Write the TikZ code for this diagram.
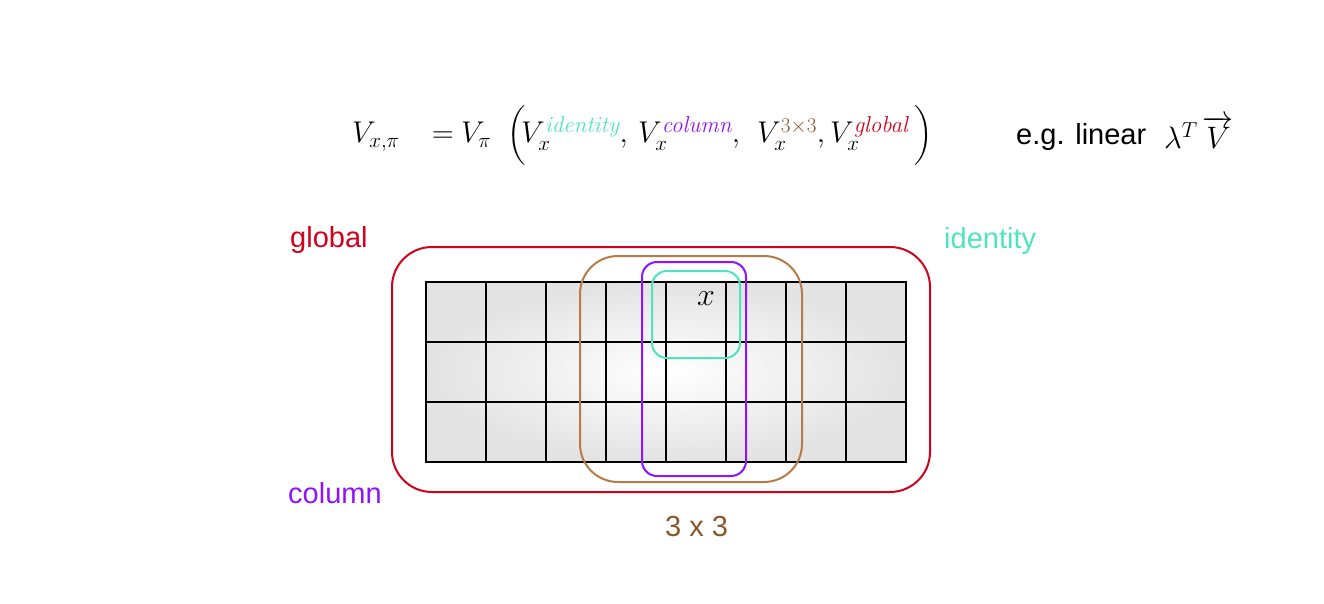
\RequirePackage{fix-cm}
\documentclass[tikz,border=0pt]{standalone}
\usepackage{amsmath}
\usepackage{fontspec}
\setmainfont{Liberation Sans}
\newfontfamily\lmrm{Latin Modern Roman}
\newcommand{\supit}[2]{\text{\fontsize{23}{28}\selectfont\lmrm\itshape\color{#1}#2}}
\definecolor{cglobal}{HTML}{D0021B}
\definecolor{cid}{HTML}{4FE3C2}
\definecolor{ccol}{HTML}{9013FE}
\definecolor{cthreebox}{HTML}{B67B47}
\definecolor{cthree}{HTML}{8B572A}
\begin{document}
\begin{tikzpicture}[x=1pt,y=-1pt,
  lbl/.style={inner sep=0pt, anchor=base west, font=\fontsize{29}{34}\selectfont},
  mathtxt/.style={inner sep=0pt, anchor=base west, font=\fontsize{30}{36}\selectfont},
  gridline/.style={line width=2pt, black, line cap=rect},
  region/.style={line width=2pt}]
\path[use as bounding box] (0,0) rectangle (1324,604);
% formula
\node[mathtxt] (fa) at (352,143) {$V_{x,\pi}$};
\node[mathtxt] (fb) at (432,143) {$=$};
\node[mathtxt] (fc) at (461,143) {$V_{\pi}$};
\node[mathtxt] (fd) at (507,143) {$\Bigl($};
\node[mathtxt] (fe) at (521,143) {$V_x^{\supit{cid}{identity}},$};
\node[mathtxt] (ff) at (638,143) {$V_x^{\supit{ccol}{column}},$};
\node[mathtxt] (fg) at (757,143) {$V_x^{\textcolor{cthree}{3{\times}3}},$};
\node[mathtxt] (fh) at (830,143) {$V_x^{\supit{cglobal}{global}}$};
\node[mathtxt] (fi) at (914,143) {$\Bigr)$};
\node[lbl] (eg) at (1016,145) {e.g. linear};
\node[mathtxt, font=\fontsize{31}{37}\selectfont] (lin) at (1164,149) {$\lambda^{T}\,\overrightarrow{V}$};
% grid
\shade[inner color=white, outer color=black!11] (426,282) rectangle (906,462);
\foreach \i in {0,...,8} \draw[gridline] (426+60*\i,282) -- (426+60*\i,462);
\foreach \j in {0,...,3} \draw[gridline] (426,282+60*\j) -- (906,282+60*\j);
\node[font=\fontsize{32}{38}\selectfont, inner sep=0pt] (xlab) at (706,299) {$x$};
% regions
\draw[region, cglobal, rounded corners=40pt] (392,247) rectangle (930,492);
\draw[region, cthreebox, rounded corners=38pt] (580,256) rectangle (802,482);
\draw[region, ccol, rounded corners=15pt] (642,262) rectangle (746,476);
\draw[region, cid, rounded corners=15pt] (652,271) rectangle (740,358);
% labels
\node[lbl, text=cglobal] (lglobal) at (290,247) {global};
\node[lbl, text=cid] (lid) at (944,248) {identity};
\node[lbl, text=ccol] (lcol) at (288,503) {column};
\node[lbl, text=cthree] (lthree) at (665,536) {3 x 3};
\end{tikzpicture}
\end{document}
